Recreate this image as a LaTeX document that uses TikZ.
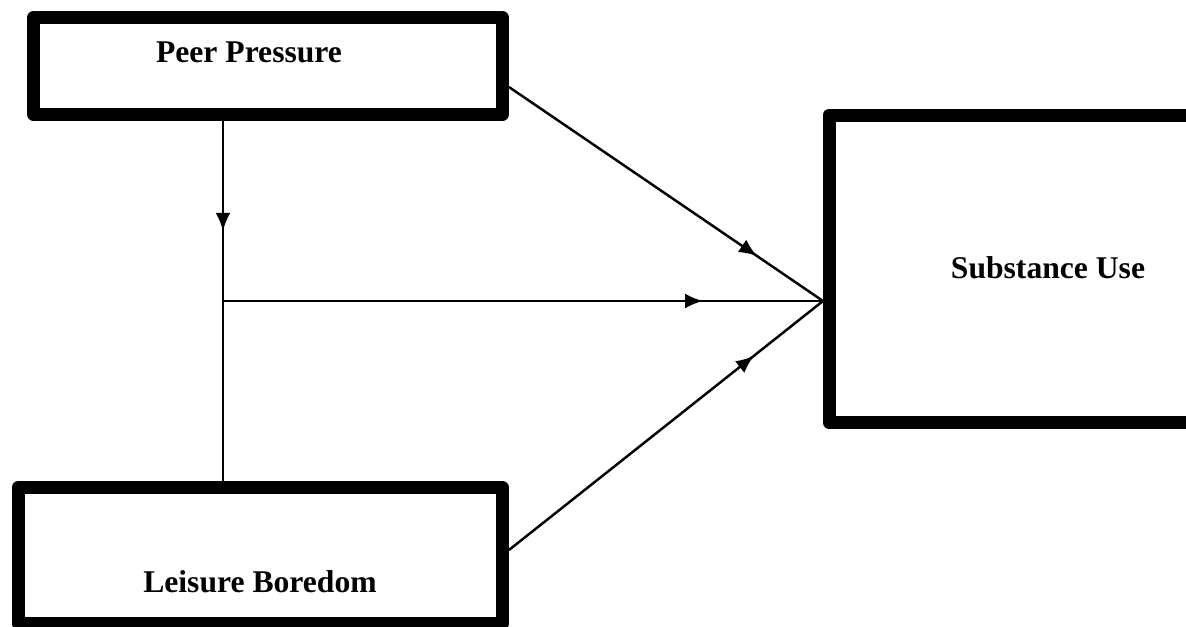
\documentclass[tikz,border=0pt]{standalone}
\usepackage{fontspec}
\setmainfont{Liberation Serif}
\usetikzlibrary{arrows.meta,decorations.markings}
\tikzset{
  box/.style={draw,line width=7.4pt,line join=round,inner sep=0pt},
  lbl/.style={font=\fontsize{18}{22}\selectfont\bfseries,inner sep=0pt,anchor=base},
  link/.style={line width=1.4pt},
  flow/.style={link,decoration={markings, mark=at position #1 with {\arrow{Latex[length=0.36cm,width=0.3cm]}}},postaction={decorate}}
}
\begin{document}
\begin{tikzpicture}[x=0.02cm,y=-0.02cm]
                \useasboundingbox (0,0) rectangle (1186,626);
                \clip (0,0) rectangle (1186,626);
                \node[box,minimum width=9.38cm,minimum height=1.94cm] (pp) at (268,66){};
                \node[box,minimum width=9.69cm,minimum height=2.72cm] (lb) at (260.25,555.5){};
                \node[box,minimum width=7.5cm,minimum height=6.15cm] (su) at (1016.5,268.75){};
                \node[lbl] (pptext) at (249,62){Peer Pressure};
                \node[lbl] (lbtext) at (260,592){Leisure Boredom};
                \node[lbl] (sutext) at (1048,278){Substance Use};
                \coordinate (mid) at (223,301);
                \coordinate (hub) at (823,301);
                \draw[flow=0.61] (pp.south -| mid) -- (mid);
                \draw[link] (mid) -- (lb.north -| mid);
                \draw[flow=0.8] (mid) -- (hub);
                \draw[flow=0.79] ([yshift=-0.42cm]pp.east) -- (hub);
                \draw[flow=0.78] ([yshift=0.11cm]lb.east) -- (hub);
            \end{tikzpicture}
\end{document}
